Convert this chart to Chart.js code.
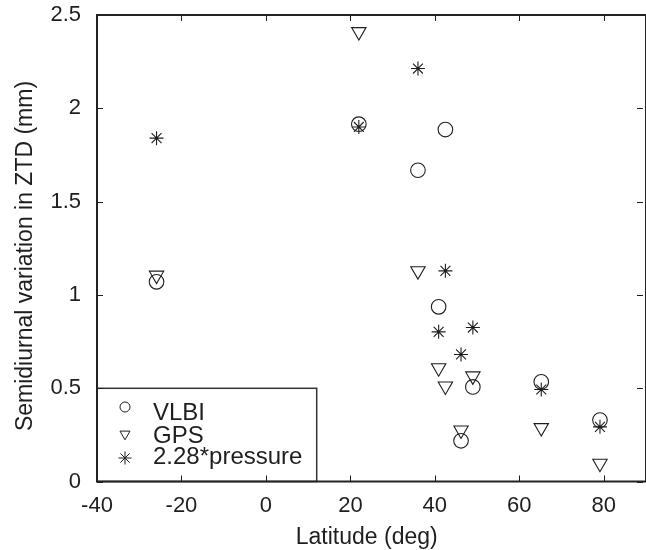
<!DOCTYPE html>
<html><head><meta charset="utf-8">
<script src="https://cdn.jsdelivr.net/npm/chart.js@4/dist/chart.umd.min.js"></script>
<style>html,body{margin:0;padding:0;background:#fff}canvas{display:block}</style>
</head><body>
<canvas id="c" width="646" height="550"></canvas>
<script>
// ---- data ----
const latitudes = [-25.9, 22.0, 36.0, 40.9, 42.5, 46.2, 49.0, 65.2, 79.1];
const vlbi      = [1.07, 1.915, 1.668, 0.936, 1.886, 0.218, 0.507, 0.534, 0.329];
const gps       = [1.105, 2.41, 1.129, 0.609, 0.511, 0.275, 0.565, 0.288, 0.097];
const pressure  = [1.84, 1.90, 2.213, 0.802, 1.129, 0.681, 0.825, 0.493, 0.293];
const seriesLabels = ['VLBI', 'GPS', '2.28*pressure'];
const xTickLabels = ['-40', '-20', '0', '20', '40', '60', '80'];
const yTickLabels = ['0', '0.5', '1', '1.5', '2', '2.5'];
const xTitle = 'Latitude (deg)';
const yTitle = 'Semidiurnal variation in ZTD (mm)';

const FONT = '"Liberation Sans", Arial, Helvetica, sans-serif';
const INK = '#1e1e1e';

function pts(ys) { return latitudes.map((x, i) => ({x: x, y: ys[i]})); }

function marker(ctx, style, x, y, r) {
  ctx.beginPath();
  if (style === 'circle') {
    ctx.arc(x, y, r, 0, Math.PI * 2);
  } else if (style === 'triangle') {
    const h = r;
    ctx.moveTo(x, y + h);
    ctx.lineTo(x - h * Math.sqrt(3) / 2, y - h / 2);
    ctx.lineTo(x + h * Math.sqrt(3) / 2, y - h / 2);
    ctx.closePath();
  } else if (style === 'star') {
    const d = r * Math.SQRT1_2;
    ctx.moveTo(x - r, y); ctx.lineTo(x + r, y);
    ctx.moveTo(x, y - r); ctx.lineTo(x, y + r);
    ctx.moveTo(x - d, y - d); ctx.lineTo(x + d, y + d);
    ctx.moveTo(x - d, y + d); ctx.lineTo(x + d, y - d);
  }
  ctx.stroke();
}

const framePlugin = {
  id: 'frame',
  afterDraw(chart) {
    const {ctx, chartArea: a} = chart;
    const xs = chart.scales.x, ys = chart.scales.y;
    ctx.save();
    // legend box
    const lg = {l: a.left, t: 388.3, r: 316.7, b: a.bottom};
    ctx.fillStyle = '#fff';
    ctx.fillRect(lg.l, lg.t, lg.r - lg.l, lg.b - lg.t);
    ctx.strokeStyle = '#333';
    ctx.lineWidth = 1.5;
    ctx.strokeRect(lg.l, lg.t, lg.r - lg.l, lg.b - lg.t);
    const rows = [
      {style: 'circle', r: 5, my: 407, ty: 419.5},
      {style: 'triangle', r: 5.8, my: 434, ty: 443.3},
      {style: 'star', r: 6.5, my: 458, ty: 463.8}
    ];
    ctx.font = '24px ' + FONT;
    ctx.textAlign = 'left';
    ctx.textBaseline = 'alphabetic';
    rows.forEach((row, i) => {
      ctx.strokeStyle = INK; ctx.lineWidth = 1;
      marker(ctx, row.style, 125, row.my, row.r);
      ctx.fillStyle = INK;
      ctx.fillText(chart.data.datasets[i].label, 153, row.ty);
    });

    // inward ticks
    ctx.strokeStyle = INK;
    ctx.lineWidth = 1;
    const tl = 6;
    ctx.beginPath();
    xs.ticks.forEach(t => {
      const px = Math.round(xs.getPixelForValue(t.value)) + 0.5;
      ctx.moveTo(px, a.bottom); ctx.lineTo(px, a.bottom - tl);
      ctx.moveTo(px, a.top); ctx.lineTo(px, a.top + tl);
    });
    ys.ticks.forEach(t => {
      const py = Math.round(ys.getPixelForValue(t.value)) + 0.5;
      ctx.moveTo(a.left, py); ctx.lineTo(a.left + tl, py);
      ctx.moveTo(a.right - 3, py); ctx.lineTo(a.right - 3 - tl, py);
    });
    ctx.stroke();
    // axes box
    ctx.lineWidth = 2;
    ctx.strokeStyle = '#222';
    ctx.strokeRect(a.left, a.top, a.right - a.left, a.bottom - a.top);

    // axis titles
    ctx.fillStyle = INK;
    ctx.font = '23px ' + FONT;
    ctx.textAlign = 'center';
    ctx.textBaseline = 'alphabetic';
    ctx.fillText(xTitle, 366.7, 543.5);
    ctx.save();
    ctx.translate(31.5, 256);
    ctx.rotate(-Math.PI / 2);
    ctx.fillText(yTitle, 0, 0);
    ctx.restore();
    ctx.restore();
  }
};

const common = {showLine: false, borderColor: INK, backgroundColor: 'rgba(0,0,0,0)', borderWidth: 1, pointBorderWidth: 1.1};

new Chart(document.getElementById('c'), {
  type: 'scatter',
  data: {
    datasets: [
      Object.assign({label: seriesLabels[0], data: pts(vlbi), pointStyle: 'circle', pointRadius: 7.3}, common),
      Object.assign({label: seriesLabels[1], data: pts(gps), pointStyle: 'triangle', pointRotation: 180, pointRadius: 8.3}, common),
      Object.assign({label: seriesLabels[2], data: pts(pressure), pointStyle: 'star', pointRadius: 7}, common)
    ]
  },
  options: {
    responsive: false,
    devicePixelRatio: 1,
    animation: false,
    events: [],
    layout: {autoPadding: false, padding: {top: 15, left: 0, right: 0, bottom: 0}},
    plugins: {legend: {display: false}, tooltip: {enabled: false}},
    scales: {
      x: {
        type: 'linear', min: -40, max: 90,
        grid: {display: false, drawTicks: false},
        border: {display: false},
        ticks: {stepSize: 20, includeBounds: false, padding: 11, color: INK, maxRotation: 0,
          font: {family: FONT, size: 22},
          callback: (v, i) => xTickLabels[i]},
        afterFit: s => { s.height = 68.5; s.paddingLeft = 0; s.paddingRight = 0; }
      },
      y: {
        type: 'linear', min: 0, max: 2.5,
        grid: {display: false, drawTicks: false},
        border: {display: false},
        ticks: {stepSize: 0.5, padding: 16, color: INK,
          font: {family: FONT, size: 22},
          callback: (v, i) => yTickLabels[i]},
        afterFit: s => { s.width = 97; s.paddingTop = 0; s.paddingBottom = 0; }
      }
    }
  },
  plugins: [framePlugin]
});
</script>
</body></html>
